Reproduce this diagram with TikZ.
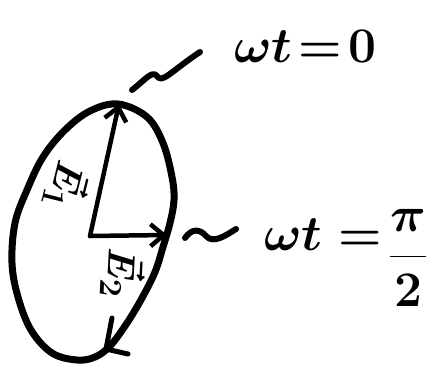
\documentclass[tikz,border=0pt]{standalone}
\usetikzlibrary{arrows.meta}
\begin{document}
\begin{tikzpicture}[x=1pt,y=-1pt,
  stroke/.style={line width=7pt,line cap=round,line join=round},
  vec/.style={line width=4.5pt,line cap=round,line join=round,
    -{Straight Barb[length=13pt,width=22pt,line width=4.5pt]}},
  lbl/.style={inner sep=0pt,font=\Huge\boldmath,scale=2},
  vlbl/.style={inner sep=0pt,font=\Huge\boldmath,scale=1.55}]
\useasboundingbox (0,0) rectangle (444,367);
% ellipse (hand-drawn outline)
\draw[stroke] plot[smooth cycle,tension=0.6] coordinates {
  (118,104) (147,117) (163,143) (172,177) (174,200) (170,223) (163,247)
  (155,272) (142,298) (127,323) (110,346) (95,357) (77,360) (52,353)
  (31,330) (18,297) (12,263) (15,223) (27,190) (43,157) (65,130) (90,111)};
% vectors
\coordinate (O) at (90,236);
\coordinate (T) at (119,104);
\coordinate (R) at (167,235);
\draw[vec] (O) -- (T);
\draw[vec] (O) -- (R);
% direction arrow at bottom
\coordinate (B) at (106,349);
\draw[line width=5pt,line cap=round,line join=round] (112,318) -- (B) -- (128,354);
% vector labels
\node[vlbl,rotate=-104] (e1) at (68,186) {$\vec{E}_1$};
\node[vlbl,rotate=-93] (e2) at (123,273) {$\vec{E}_2$};
% squiggles
\coordinate (s1a) at (132,90);
\coordinate (s1b) at (200,52);
\draw[stroke,line width=6pt] (s1a) .. controls (145,80) and (152,70) .. (157,76)
  .. controls (162,84) and (170,72) .. (s1b);
\coordinate (s2a) at (185,238);
\coordinate (s2b) at (236,229);
\draw[stroke,line width=6pt] (s2a) .. controls (192,228) and (200,229) .. (206,236)
  .. controls (213,244) and (225,236) .. (s2b);
% texts
\node[lbl,anchor=base west] (t0) at (234,62) {$\omega t\!=\!0$};
\node[lbl,anchor=base west] (t1) at (264,250) {$\omega t =$};
\node[lbl] (t2) at (408,258) {$\displaystyle\frac{\pi}{2}$};
\end{tikzpicture}
\end{document}
